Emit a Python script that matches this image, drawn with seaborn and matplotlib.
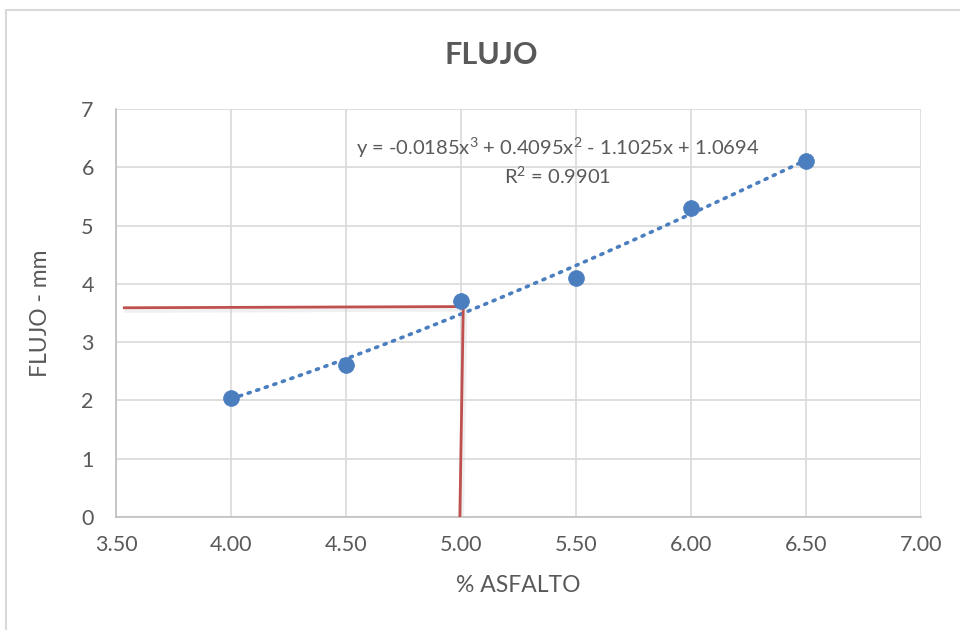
import numpy as np
import pandas as pd
import matplotlib
matplotlib.use("Agg")
import matplotlib.pyplot as plt
import seaborn as sns
from matplotlib.patches import Rectangle

# Data
asfalto = [4.0, 4.5, 5.0, 5.5, 6.0, 6.5]
flujo = [2.05, 2.6, 3.7, 4.1, 5.3, 6.1]
poly_coef = [-0.0185, 0.4095, -1.1025, 1.0694]
ref_h_x = [3.53, 4.99]
ref_h_y = [3.59, 3.61]
ref_v_x = [5.01, 4.995]
ref_v_y = [3.62, 0.0]
x_ticks = [3.5, 4.0, 4.5, 5.0, 5.5, 6.0, 6.5, 7.0]
y_ticks = [0, 1, 2, 3, 4, 5, 6, 7]

sns.set_style("white")
plt.rcParams['font.family'] = ['Lato', 'DejaVu Sans']
plt.rcParams['mathtext.fontset'] = 'custom'
plt.rcParams['mathtext.rm'] = 'Lato'
plt.rcParams['mathtext.it'] = 'Lato'
plt.rcParams['mathtext.default'] = 'regular'

fig = plt.figure(figsize=(9.6, 6.3), dpi=100)
ax = fig.add_axes([116/960, 1-517/630, (921-116)/960, (517-109)/630])

# outer chart border
fig.patches.append(Rectangle((6/960, -0.1), 1.2, 1.1 - 10/630, transform=fig.transFigure,
                             fill=False, edgecolor='#d9d9d9', linewidth=1.5))

df = pd.DataFrame({"x": asfalto, "y": flujo})

# trendline
xt = np.linspace(min(asfalto), max(asfalto), 200)
yt = np.polyval(poly_coef, xt)
ax.plot(xt, yt, linestyle=(0, (0.6, 1.9)), color='#4A7EBF', linewidth=2.6,
        dash_capstyle='round', zorder=3)

# red reference lines with soft shadow
for xs, ys in [(ref_h_x, ref_h_y), (ref_v_x, ref_v_y)]:
    ax.plot(np.array(xs) + 0.006, np.array(ys) - 0.04, color='#d0d0d0', linewidth=4, alpha=0.3,
            zorder=3, solid_capstyle='butt')
    ax.plot(xs, ys, color='#C0504D', linewidth=2, zorder=4, solid_capstyle='butt')

sns.scatterplot(data=df, x="x", y="y", ax=ax, s=130, color='#4A7EBF',
                edgecolor='#4A7EBF', linewidth=0.5, zorder=5, legend=False)

ax.set_xlim(3.5, 7.0)
ax.set_ylim(0, 7)
ax.set_xticks(x_ticks)
ax.set_xticklabels([f"{v:.2f}" for v in x_ticks])
ax.set_yticks(y_ticks)
ax.grid(True, color='#d9d9d9', linewidth=1.2)
ax.set_axisbelow(True)
for s in ['top', 'right']:
    ax.spines[s].set_visible(False)
for s in ['left', 'bottom']:
    ax.spines[s].set_color('#bfbfbf')
    ax.spines[s].set_linewidth(1.2)
ax.tick_params(axis='both', length=0, labelsize=15.5, colors='#595959')
ax.tick_params(axis='x', pad=13)
ax.tick_params(axis='y', pad=16)

ax.set_xlabel("% ASFALTO", fontsize=16.5, color='#595959', labelpad=14)
ax.set_ylabel("FLUJO - mm", fontsize=16.5, color='#595959', labelpad=22)

fig.text(491/960, 1-55/630, "FLUJO", fontsize=22, fontweight='bold', color='#595959',
         ha='center', va='center')

ax.text(5.42, 6.33, "y = -0.0185x$^{3}$ + 0.4095x$^{2}$ - 1.1025x + 1.0694",
        fontsize=14.5, color='#595959', ha='center', va='center')
ax.text(5.42, 5.85, "R$^{2}$ = 0.9901", fontsize=14.5, color='#595959', ha='center', va='center')

fig.savefig("out.png", dpi=100)
